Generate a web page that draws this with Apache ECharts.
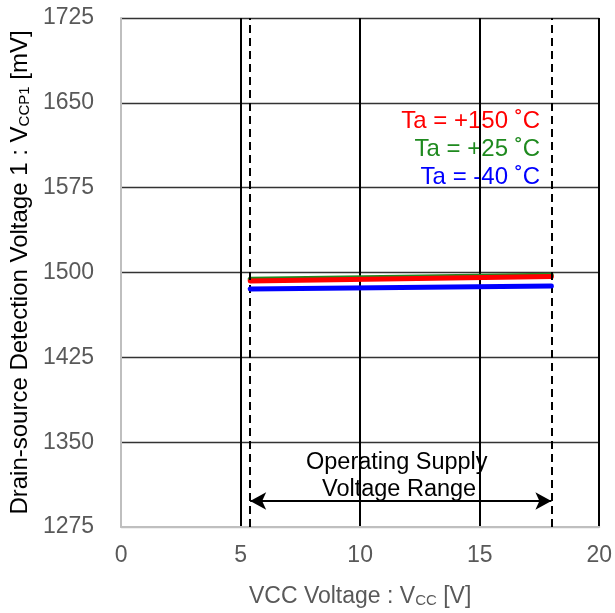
<!DOCTYPE html>
<html>
<head>
<meta charset="utf-8">
<script src="https://cdn.jsdelivr.net/npm/echarts@6/dist/echarts.min.js"></script>
<style>html,body{margin:0;padding:0;background:#fff;}#c{width:615px;height:613px;}</style>
</head>
<body>
<div id="c"></div>
<script>
const vcc = [5.4, 18];
const ta150 = [1492.5, 1496.5];
const ta25 = [1494, 1497.5];
const ta40 = [1485.5, 1488];
const seriesNames = ['Ta = +150 ˚C', 'Ta = +25 ˚C', 'Ta = -40 ˚C'];
const rangeMin = 5.4, rangeMax = 18, arrowY = 1298;

const FONT = '"Liberation Sans", Arial, sans-serif';
const chart = echarts.init(document.getElementById('c'));
const pts = arr => vcc.map((x, i) => [x, arr[i]]);
const lineSeries = (name, arr, color, z) => ({
  name, type: 'line', data: pts(arr), symbol: 'none', z,
  lineStyle: { color, width: 5, cap: 'round' }, silent: true, animation: false
});

chart.setOption({
  animation: false,
  grid: { left: 120, right: 15, top: 18, bottom: 81 },
  xAxis: {
    type: 'value', min: 0, max: 20, interval: 5,
    axisLine: { show: true, lineStyle: { color: '#bfbfbf', width: 2 } },
    axisTick: { show: false },
    axisLabel: { color: '#595959', fontSize: 23, fontFamily: FONT, margin: 17 },
    splitLine: { show: true, lineStyle: { color: ['#bfbfbf', '#000', '#000', '#000', '#000'], width: 2 } },
    name: '{n|VCC Voltage : V}{s|CC}{n| [V]}',
    nameLocation: 'middle', nameGap: 55,
    nameTextStyle: {
      rich: {
        n: { color: '#595959', fontSize: 23, fontFamily: FONT, verticalAlign: 'bottom', lineHeight: 26 },
        s: { color: '#595959', fontSize: 15, fontFamily: FONT, verticalAlign: 'bottom', lineHeight: 20 }
      }
    }
  },
  yAxis: {
    type: 'value', min: 1275, max: 1725, interval: 75,
    axisLine: { show: true, lineStyle: { color: '#bfbfbf', width: 2 } },
    axisTick: { show: false },
    axisLabel: { color: '#595959', fontSize: 23, fontFamily: FONT, margin: 27, formatter: v => String(v) },
    splitLine: { show: true, lineStyle: { color: ['#bfbfbf', '#333', '#333', '#333', '#333', '#333', '#333'], width: 1.3 } },
    name: '{n|Drain-source Detection Voltage 1 : V}{s|CCP1}{n| [mV]}',
    nameLocation: 'middle', nameGap: 88,
    nameTextStyle: {
      rich: {
        n: { color: '#000', fontSize: 24, fontFamily: FONT, verticalAlign: 'bottom', lineHeight: 27 },
        s: { color: '#000', fontSize: 15, fontFamily: FONT, verticalAlign: 'bottom', lineHeight: 21 }
      }
    }
  },
  series: [
    lineSeries(seriesNames[1], ta25, '#1f8a1f', 3),
    lineSeries(seriesNames[0], ta150, '#ff0000', 4),
    Object.assign(lineSeries(seriesNames[2], ta40, '#0000ff', 5), {
      markLine: {
        silent: true, animation: false, symbol: 'none',
        label: { show: false },
        lineStyle: { color: '#000', width: 2, type: [8, 5] },
        data: [{ xAxis: rangeMin }, { xAxis: rangeMax },
          [{ coord: [rangeMin, arrowY], symbol: 'arrow', symbolSize: [13, 16], lineStyle: { type: 'solid', width: 2, color: '#000' } },
           { coord: [rangeMax, arrowY], symbol: 'arrow', symbolSize: [13, 16] }]]
      }
    })
  ],
  graphic: [
    { type: 'text', right: 75, top: 109, style: { text: seriesNames[0], fill: '#ff0000', font: '24px ' + FONT, textAlign: 'right' } },
    { type: 'text', right: 75, top: 137, style: { text: seriesNames[1], fill: '#1f8a1f', font: '24px ' + FONT, textAlign: 'right' } },
    { type: 'text', right: 75, top: 165, style: { text: seriesNames[2], fill: '#0000ff', font: '24px ' + FONT, textAlign: 'right' } },
    { type: 'text', left: 306, top: 451, style: { text: 'Operating Supply', fill: '#000', font: '23.5px ' + FONT } },
    { type: 'text', left: 322, top: 478, style: { text: 'Voltage Range', fill: '#000', font: '23.5px ' + FONT } }
  ]
});
</script>
</body>
</html>
